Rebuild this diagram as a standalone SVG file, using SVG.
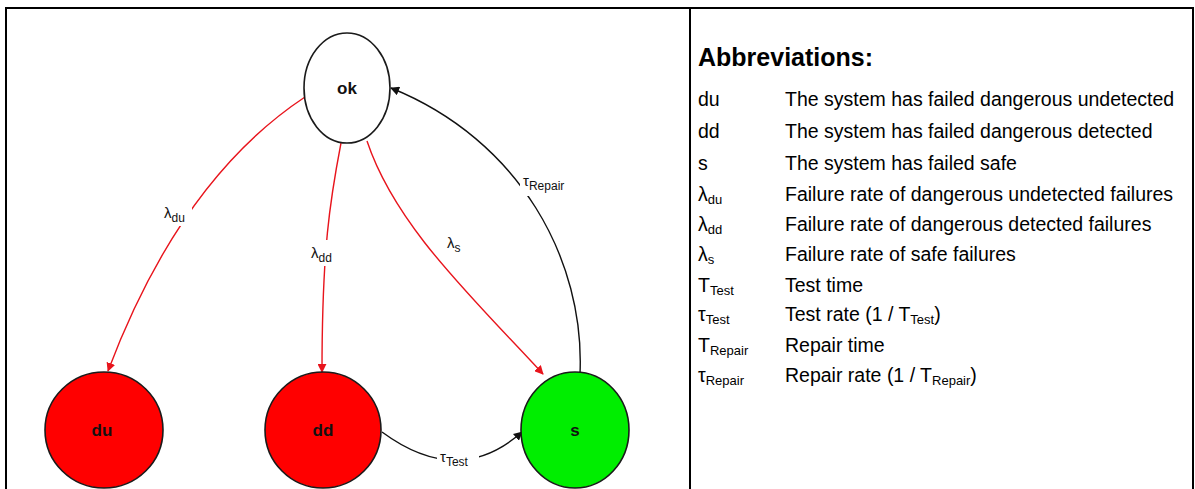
<svg xmlns="http://www.w3.org/2000/svg" width="1195" height="489" viewBox="0 0 1195 489">
<defs>
<style>
.frame{stroke:#000;stroke-width:2;fill:none}
.node{stroke:#1a1a1a;stroke-width:1.6}
.nl{font-family:"Liberation Sans",Arial,sans-serif;font-weight:bold;font-size:17px;text-anchor:middle;fill:#111}
.red{stroke:#e8141c;stroke-width:1.4;fill:none}
.blk{stroke:#111;stroke-width:1.4;fill:none}
.el{font-family:"Liberation Sans",Arial,sans-serif;font-size:15px;fill:#111}
.t{font-family:"Liberation Sans",Arial,sans-serif;font-size:19.5px;fill:#000}
.h{font-family:"Liberation Sans",Arial,sans-serif;font-size:25px;font-weight:bold;fill:#000}
.sub{font-size:12px}
.ts{font-size:13px}
</style>
<marker id="ar" viewBox="0 0 10 10" refX="9" refY="5" markerWidth="9" markerHeight="9" markerUnits="userSpaceOnUse" orient="auto"><path d="M0,0 L10,5 L0,10 z" fill="#e8141c"/></marker>
<marker id="ab" viewBox="0 0 10 10" refX="9" refY="5" markerWidth="9" markerHeight="9" markerUnits="userSpaceOnUse" orient="auto"><path d="M0,0 L10,5 L0,10 z" fill="#111"/></marker>
</defs>
<rect width="1195" height="489" fill="#fff"/>
<g id="frame">
<line class="frame" x1="5" y1="8" x2="1194" y2="8"/>
<line class="frame" x1="6" y1="7" x2="6" y2="489"/>
<line class="frame" x1="690" y1="7" x2="690" y2="489"/>
<line class="frame" x1="1193" y1="7" x2="1193" y2="489"/>
</g>
<g id="connectors">
<path class="red" d="M305,97 C240,140 165,220 108,371" marker-end="url(#ar)"/>
<path class="red" d="M341,143 C330,200 322,250 322,372" marker-end="url(#ar)"/>
<path class="red" d="M367,141 C395,225 470,295 543,374" marker-end="url(#ar)"/>
<path class="blk" d="M580,374 C585,260 520,140 391,88" marker-end="url(#ab)"/>
<path class="blk" d="M382,432 C420,460 470,478 522,432" marker-end="url(#ab)"/>
</g>
<g id="edge-labels">
<rect x="160" y="200" width="32" height="26" fill="#fff"/>
<text class="el" x="164" y="218">λ<tspan class="sub" dy="4">du</tspan></text>
<rect x="308" y="240" width="32" height="26" fill="#fff"/>
<text class="el" x="311" y="258">λ<tspan class="sub" dy="4">dd</tspan></text>
<rect x="445" y="230" width="24" height="26" fill="#fff"/>
<text class="el" x="447" y="248">λ<tspan class="sub" dy="4">s</tspan></text>
<rect x="520" y="170" width="56" height="26" fill="#fff"/>
<text class="el" x="523" y="186">τ<tspan class="sub" dy="4">Repair</tspan></text>
<rect x="437" y="448" width="42" height="24" fill="#fff"/>
<text class="el" x="440" y="462">τ<tspan class="sub" dy="4">Test</tspan></text>
</g>
<g id="ok"><ellipse class="node" cx="347" cy="88" rx="43" ry="55" fill="#fff"/><text class="nl" x="347" y="94">ok</text></g>
<g id="du"><ellipse class="node" cx="104" cy="430" rx="59" ry="58" fill="#ff0000"/><text class="nl" x="102" y="436">du</text></g>
<g id="dd"><ellipse class="node" cx="323" cy="430" rx="58" ry="58" fill="#ff0000"/><text class="nl" x="323" y="436">dd</text></g>
<g id="s"><ellipse class="node" cx="575" cy="430" rx="54" ry="58" fill="#00ee00"/><text class="nl" x="575" y="436">s</text></g>
<g id="legend">
<text class="h" x="698" y="66">Abbreviations:</text>
<text class="t" x="698" y="106">du</text><text class="t" x="785" y="106">The system has failed dangerous undetected</text>
<text class="t" x="698" y="138">dd</text><text class="t" x="785" y="138">The system has failed dangerous detected</text>
<text class="t" x="698" y="170">s</text><text class="t" x="785" y="170">The system has failed safe</text>
<text class="t" x="698" y="201">λ<tspan class="ts" dy="3">du</tspan></text><text class="t" x="785" y="201">Failure rate of dangerous undetected failures</text>
<text class="t" x="698" y="231">λ<tspan class="ts" dy="3">dd</tspan></text><text class="t" x="785" y="231">Failure rate of dangerous detected failures</text>
<text class="t" x="698" y="261">λ<tspan class="ts" dy="3">s</tspan></text><text class="t" x="785" y="261">Failure rate of safe failures</text>
<text class="t" x="698" y="292">T<tspan class="ts" dy="3">Test</tspan></text><text class="t" x="785" y="292">Test time</text>
<text class="t" x="698" y="321">τ<tspan class="ts" dy="3">Test</tspan></text><text class="t" x="785" y="321">Test rate (1 / T<tspan class="ts" dy="3">Test</tspan><tspan dy="-3">)</tspan></text>
<text class="t" x="698" y="352">T<tspan class="ts" dy="3">Repair</tspan></text><text class="t" x="785" y="352">Repair time</text>
<text class="t" x="698" y="382">τ<tspan class="ts" dy="3">Repair</tspan></text><text class="t" x="785" y="382">Repair rate (1 / T<tspan class="ts" dy="3">Repair</tspan><tspan dy="-3">)</tspan></text>
</g>
</svg>
